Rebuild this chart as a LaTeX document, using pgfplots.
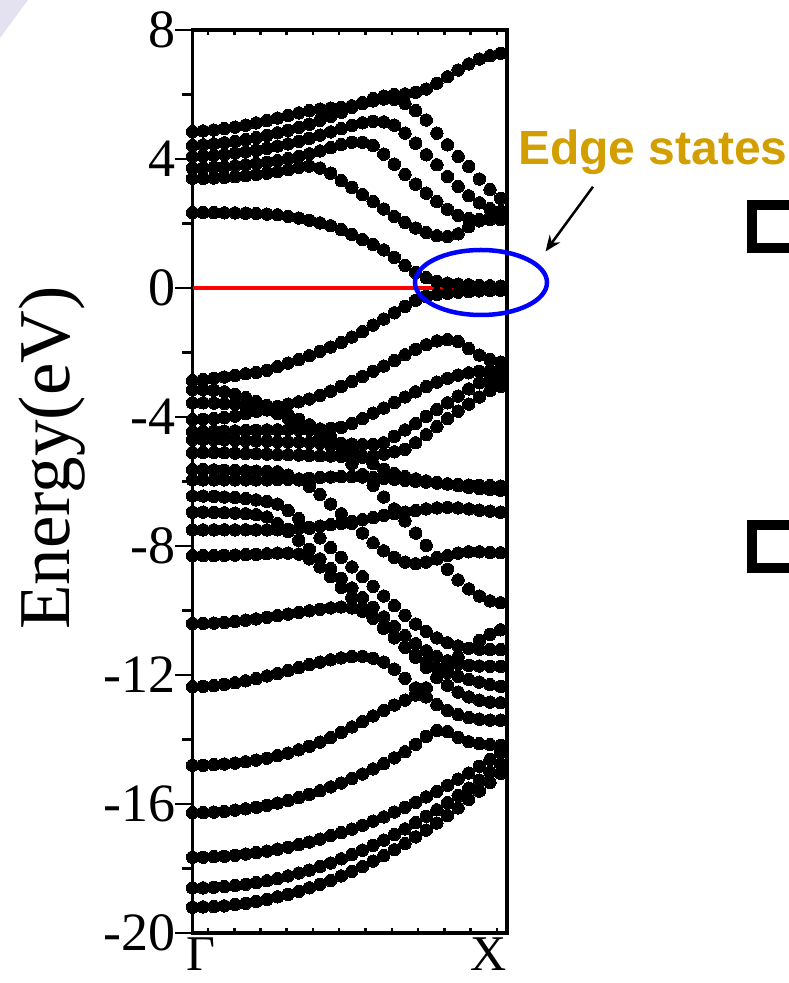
\documentclass[border=0pt]{standalone}
\usepackage{pgfplots}
\pgfplotsset{compat=1.18}
\usepackage{fontspec}
\setmainfont{Liberation Serif}
\newfontfamily\arialfont{Liberation Sans}
\usetikzlibrary{arrows.meta}
\definecolor{edgegold}{RGB}{210,158,0}
\pgfplotsset{bnd/.style={only marks, mark=*, mark size=6.2pt, mark options={fill=black, draw=black, line width=0pt}}}
\begin{document}
\begin{tikzpicture}[x=1pt,y=1pt]
\useasboundingbox (0,0) rectangle (788,983);
\fill[color={rgb,255:red,228;green,225;blue,240}] (0,983) -- (28,983) -- (0,945) -- cycle;
\begin{axis}[
  at={(192.5pt,50pt)}, anchor=south west,
  scale only axis, width=314.5pt, height=903pt,
  xmin=0, xmax=29.6, ymin=-20, ymax=8,
  axis line style={line width=3.5pt},
  xtick=\empty,
  extra x ticks={1.46,3.93,6.40,8.87,11.34,13.81,16.28,18.76,21.23,23.70,26.17,28.64},
  extra x tick labels={},
  extra x tick style={tick align=inside, major tick length=5pt},
  xtick pos=both,
  ytick={-20,-16,-12,-8,-4,0,4,8},
  yticklabels={{-20},{-16},{-12},{-8},{-4},{0},{4},{8}},
  minor ytick={-18,-14,-10,-6,-2,2,6},
  ytick pos=left,
  tick align=outside,
  major tick length=17pt, minor tick length=10pt,
  tick style={line width=2.5pt, black},
  yticklabel style={font=\fontsize{54}{54}\selectfont, inner sep=0pt, anchor=east},
]
% conduction bands
\addplot[bnd] coordinates {(0,4.85)(1,4.87)(2,4.90)(3,4.94)(4,4.99)(5,5.05)(6,5.12)(7,5.19)(8,5.27)(9,5.35)(10,5.43)(11,5.50)(12,5.55)(13,5.58)(14,5.60)(15,5.65)(16,5.72)(17,5.80)(18,5.86)(19,5.85)(20,5.72)(21,5.50)(22,5.21)(23,4.80)(24,4.44)(25,4.08)(26,3.77)(27,3.38)(28,3.05)(29,2.78)};
\addplot[bnd] coordinates {(0,4.42)(1,4.44)(2,4.47)(3,4.50)(4,4.54)(5,4.60)(6,4.66)(7,4.73)(8,4.81)(9,4.89)(10,4.98)(11,5.08)(12,5.20)(13,5.32)(14,5.45)(15,5.60)(16,5.75)(17,5.87)(18,5.95)(19,6.00)(20,6.02)(21,6.07)(22,6.17)(23,6.35)(24,6.55)(25,6.76)(26,6.95)(27,7.10)(28,7.20)(29,7.28)};
\addplot[bnd] coordinates {(0,4.08)(1,4.09)(2,4.11)(3,4.14)(4,4.18)(5,4.22)(6,4.27)(7,4.33)(8,4.40)(9,4.47)(10,4.55)(11,4.64)(12,4.74)(13,4.84)(14,4.94)(15,5.04)(16,5.12)(17,5.17)(18,5.15)(19,5.05)(20,4.80)(21,4.49)(22,4.13)(23,3.82)(24,3.46)(25,3.15)(26,2.86)(27,2.64)(28,2.46)(29,2.38)};
\addplot[bnd] coordinates {(0,3.72)(1,3.73)(2,3.74)(3,3.76)(4,3.79)(5,3.82)(6,3.86)(7,3.90)(8,3.95)(9,4.01)(10,4.08)(11,4.16)(12,4.25)(13,4.35)(14,4.45)(15,4.52)(16,4.52)(17,4.42)(18,4.15)(19,3.84)(20,3.52)(21,3.22)(22,2.94)(23,2.68)(24,2.44)(25,2.25)(26,2.15)(27,2.12)(28,2.12)(29,2.12)};
\addplot[bnd] coordinates {(0,3.40)(1,3.40)(2,3.41)(3,3.43)(4,3.45)(5,3.48)(6,3.52)(7,3.56)(8,3.61)(9,3.67)(10,3.74)(11,3.78)(12,3.72)(13,3.56)(14,3.33)(15,3.12)(16,2.90)(17,2.68)(18,2.45)(19,2.22)(20,2.03)(21,1.86)(22,1.72)(23,1.62)(24,1.60)(25,1.68)(26,1.90)(27,2.08)(28,2.20)(29,2.30)};
\addplot[bnd] coordinates {(0,2.34)(1,2.34)(2,2.34)(3,2.33)(4,2.33)(5,2.32)(6,2.31)(7,2.29)(8,2.27)(9,2.22)(10,2.17)(11,2.10)(12,2.02)(13,1.93)(14,1.81)(15,1.66)(16,1.50)(17,1.35)(18,1.18)(19,0.95)(20,0.70)(21,0.48)(22,0.32)(23,0.20)(24,0.15)(25,0.12)(26,0.10)(27,0.08)(28,0.07)(29,0.06)};
% valence bands
\addplot[bnd] coordinates {(0,-2.87)(1,-2.84)(2,-2.80)(3,-2.76)(4,-2.71)(5,-2.66)(6,-2.62)(7,-2.55)(8,-2.44)(9,-2.33)(10,-2.22)(11,-2.10)(12,-1.96)(13,-1.83)(14,-1.69)(15,-1.52)(16,-1.35)(17,-1.15)(18,-0.96)(19,-0.77)(20,-0.57)(21,-0.38)(22,-0.26)(23,-0.20)(24,-0.16)(25,-0.13)(26,-0.11)(27,-0.09)(28,-0.08)(29,-0.07)};
\addplot[bnd] coordinates {(0,-4.08)(1,-4.07)(2,-4.05)(3,-4.02)(4,-3.97)(5,-3.90)(6,-3.82)(7,-3.75)(8,-3.67)(9,-3.60)(10,-3.53)(11,-3.44)(12,-3.33)(13,-3.20)(14,-3.05)(15,-2.90)(16,-2.74)(17,-2.58)(18,-2.42)(19,-2.25)(20,-2.07)(21,-1.90)(22,-1.76)(23,-1.64)(24,-1.60)(25,-1.66)(26,-1.88)(27,-2.08)(28,-2.22)(29,-2.30)};
\addplot[bnd] coordinates {(0,-3.15)(1,-3.15)(2,-3.17)(3,-3.22)(4,-3.30)(5,-3.40)(6,-3.52)(7,-3.65)(8,-3.78)(9,-3.92)(10,-4.07)(11,-4.24)(12,-4.42)(13,-4.62)(14,-4.82)(15,-5.03)(16,-5.25)(17,-5.45)(18,-5.62)(19,-5.75)(20,-5.85)(21,-5.92)(22,-5.98)(23,-6.03)(24,-6.08)(25,-6.13)(26,-6.18)(27,-6.22)(28,-6.25)(29,-6.27)};
\addplot[bnd] coordinates {(0,-3.56)(1,-3.56)(2,-3.57)(3,-3.58)(4,-3.60)(5,-3.64)(6,-3.70)(7,-3.78)(8,-3.90)(9,-4.04)(10,-4.20)(11,-4.40)(12,-4.62)(13,-4.88)(14,-5.15)(15,-5.45)(16,-5.78)(17,-6.12)(18,-6.48)(19,-6.85)(20,-7.22)(21,-7.60)(22,-7.98)(23,-8.36)(24,-8.72)(25,-9.05)(26,-9.33)(27,-9.55)(28,-9.70)(29,-9.76)};
\addplot[bnd] coordinates {(0,-4.45)(1,-4.45)(2,-4.44)(3,-4.44)(4,-4.43)(5,-4.42)(6,-4.41)(7,-4.40)(8,-4.40)(9,-4.39)(10,-4.39)(11,-4.38)(12,-4.37)(13,-4.35)(14,-4.32)(15,-4.20)(16,-4.05)(17,-3.88)(18,-3.72)(19,-3.55)(20,-3.38)(21,-3.22)(22,-3.06)(23,-2.92)(24,-2.80)(25,-2.70)(26,-2.63)(27,-2.58)(28,-2.56)(29,-2.55)};
\addplot[bnd] coordinates {(0,-4.70)(1,-4.70)(2,-4.70)(3,-4.71)(4,-4.72)(5,-4.73)(6,-4.74)(7,-4.75)(8,-4.76)(9,-4.77)(10,-4.78)(11,-4.79)(12,-4.80)(13,-4.81)(14,-4.82)(15,-4.84)(16,-4.85)(17,-4.85)(18,-4.80)(19,-4.60)(20,-4.40)(21,-4.20)(22,-3.98)(23,-3.77)(24,-3.56)(25,-3.35)(26,-3.13)(27,-2.94)(28,-2.82)(29,-2.78)};
\addplot[bnd] coordinates {(0,-5.10)(1,-5.10)(2,-5.10)(3,-5.11)(4,-5.12)(5,-5.13)(6,-5.14)(7,-5.15)(8,-5.16)(9,-5.17)(10,-5.18)(11,-5.19)(12,-5.20)(13,-5.21)(14,-5.22)(15,-5.22)(16,-5.22)(17,-5.20)(18,-5.15)(19,-5.08)(20,-5.00)(21,-4.80)(22,-4.55)(23,-4.30)(24,-4.05)(25,-3.82)(26,-3.60)(27,-3.38)(28,-3.18)(29,-3.05)};
\addplot[bnd] coordinates {(0,-5.63)(1,-5.63)(2,-5.64)(3,-5.65)(4,-5.66)(5,-5.67)(6,-5.68)(7,-5.69)(8,-5.70)(9,-5.80)(10,-5.95)(11,-6.15)(12,-6.40)(13,-6.70)(14,-7.00)(15,-7.30)(16,-7.60)(17,-7.90)(18,-8.15)(19,-8.35)(20,-8.50)(21,-8.55)(22,-8.50)(23,-8.40)(24,-8.30)(25,-8.22)(26,-8.18)(27,-8.18)(28,-8.20)(29,-8.21)};
\addplot[bnd] coordinates {(0,-5.95)(1,-5.95)(2,-5.95)(3,-5.95)(4,-5.95)(5,-5.95)(6,-5.95)(7,-5.95)(8,-5.94)(9,-5.93)(10,-5.92)(11,-5.90)(12,-5.88)(13,-5.86)(14,-5.85)(15,-5.85)(16,-5.86)(17,-5.88)(18,-5.90)(19,-5.93)(20,-5.96)(21,-5.99)(22,-6.02)(23,-6.05)(24,-6.07)(25,-6.09)(26,-6.11)(27,-6.12)(28,-6.13)(29,-6.14)};
\addplot[bnd] coordinates {(0,-6.45)(1,-6.45)(2,-6.46)(3,-6.48)(4,-6.50)(5,-6.53)(6,-6.57)(7,-6.62)(8,-6.70)(9,-6.90)(10,-7.15)(11,-7.45)(12,-7.75)(13,-8.05)(14,-8.35)(15,-8.65)(16,-8.95)(17,-9.25)(18,-9.55)(19,-9.85)(20,-10.15)(21,-10.42)(22,-10.65)(23,-10.85)(24,-11.00)(25,-11.10)(26,-11.17)(27,-11.20)(28,-11.21)(29,-11.21)};
\addplot[bnd] coordinates {(0,-6.95)(1,-6.95)(2,-6.96)(3,-6.97)(4,-6.98)(5,-7.00)(6,-7.03)(7,-7.10)(8,-7.30)(9,-7.55)(10,-7.82)(11,-8.10)(12,-8.40)(13,-8.70)(14,-9.00)(15,-9.30)(16,-9.60)(17,-9.90)(18,-10.20)(19,-10.50)(20,-10.78)(21,-11.03)(22,-11.25)(23,-11.43)(24,-11.56)(25,-11.65)(26,-11.70)(27,-11.72)(28,-11.73)(29,-11.73)};
\addplot[bnd] coordinates {(0,-7.50)(1,-7.50)(2,-7.50)(3,-7.50)(4,-7.50)(5,-7.50)(6,-7.50)(7,-7.50)(8,-7.50)(9,-7.48)(10,-7.45)(11,-7.42)(12,-7.38)(13,-7.34)(14,-7.30)(15,-7.24)(16,-7.18)(17,-7.12)(18,-7.05)(19,-7.00)(20,-6.95)(21,-6.90)(22,-6.85)(23,-6.82)(24,-6.80)(25,-6.82)(26,-6.85)(27,-6.89)(28,-6.92)(29,-6.95)};
\addplot[bnd] coordinates {(0,-8.30)(1,-8.30)(2,-8.30)(3,-8.29)(4,-8.28)(5,-8.27)(6,-8.26)(7,-8.24)(8,-8.22)(9,-8.22)(10,-8.25)(11,-8.40)(12,-8.65)(13,-8.95)(14,-9.28)(15,-9.60)(16,-9.92)(17,-10.24)(18,-10.55)(19,-10.85)(20,-11.13)(21,-11.38)(22,-11.60)(23,-11.78)(24,-11.92)(25,-12.04)(26,-12.14)(27,-12.22)(28,-12.30)(29,-12.35)};
\addplot[bnd] coordinates {(0,-10.40)(1,-10.40)(2,-10.39)(3,-10.37)(4,-10.34)(5,-10.30)(6,-10.26)(7,-10.21)(8,-10.16)(9,-10.11)(10,-10.06)(11,-10.01)(12,-9.96)(13,-9.92)(14,-9.89)(15,-9.92)(16,-10.02)(17,-10.22)(18,-10.50)(19,-10.82)(20,-11.14)(21,-11.45)(22,-11.76)(23,-12.06)(24,-12.32)(25,-12.53)(26,-12.68)(27,-12.78)(28,-12.84)(29,-12.86)};
\addplot[bnd] coordinates {(0,-12.36)(1,-12.35)(2,-12.33)(3,-12.29)(4,-12.24)(5,-12.18)(6,-12.11)(7,-12.03)(8,-11.95)(9,-11.86)(10,-11.77)(11,-11.68)(12,-11.60)(13,-11.53)(14,-11.47)(15,-11.43)(16,-11.42)(17,-11.48)(18,-11.60)(19,-11.82)(20,-12.10)(21,-12.40)(22,-12.68)(23,-12.92)(24,-13.10)(25,-13.23)(26,-13.32)(27,-13.37)(28,-13.40)(29,-13.40)};
\addplot[bnd] coordinates {(0,-14.80)(1,-14.80)(2,-14.78)(3,-14.76)(4,-14.73)(5,-14.69)(6,-14.64)(7,-14.58)(8,-14.50)(9,-14.42)(10,-14.32)(11,-14.21)(12,-14.08)(13,-13.94)(14,-13.78)(15,-13.61)(16,-13.44)(17,-13.27)(18,-13.10)(19,-12.93)(20,-12.78)(21,-12.62)(22,-12.40)(23,-12.08)(24,-11.75)(25,-11.45)(26,-11.17)(27,-10.93)(28,-10.74)(29,-10.60)};
\addplot[bnd] coordinates {(0,-16.27)(1,-16.27)(2,-16.25)(3,-16.23)(4,-16.19)(5,-16.15)(6,-16.10)(7,-16.04)(8,-15.97)(9,-15.89)(10,-15.80)(11,-15.70)(12,-15.59)(13,-15.47)(14,-15.35)(15,-15.21)(16,-15.07)(17,-14.91)(18,-14.75)(19,-14.57)(20,-14.38)(21,-14.15)(22,-13.90)(23,-13.72)(24,-13.75)(25,-13.93)(26,-14.07)(27,-14.13)(28,-14.16)(29,-14.18)};
\addplot[bnd] coordinates {(0,-17.65)(1,-17.65)(2,-17.63)(3,-17.62)(4,-17.59)(5,-17.55)(6,-17.51)(7,-17.46)(8,-17.40)(9,-17.34)(10,-17.26)(11,-17.18)(12,-17.09)(13,-16.98)(14,-16.89)(15,-16.78)(16,-16.66)(17,-16.53)(18,-16.40)(19,-16.25)(20,-16.10)(21,-15.95)(22,-15.78)(23,-15.61)(24,-15.42)(25,-15.23)(26,-15.04)(27,-14.83)(28,-14.62)(29,-14.40)};
\addplot[bnd] coordinates {(0,-18.60)(1,-18.60)(2,-18.58)(3,-18.56)(4,-18.53)(5,-18.49)(6,-18.44)(7,-18.38)(8,-18.31)(9,-18.23)(10,-18.14)(11,-18.05)(12,-17.94)(13,-17.83)(14,-17.70)(15,-17.57)(16,-17.43)(17,-17.28)(18,-17.12)(19,-16.95)(20,-16.77)(21,-16.58)(22,-16.38)(23,-16.18)(24,-15.96)(25,-15.74)(26,-15.51)(27,-15.26)(28,-15.01)(29,-14.75)};
\addplot[bnd] coordinates {(0,-19.20)(1,-19.19)(2,-19.18)(3,-19.16)(4,-19.12)(5,-19.08)(6,-19.02)(7,-18.96)(8,-18.88)(9,-18.80)(10,-18.71)(11,-18.60)(12,-18.49)(13,-18.37)(14,-18.23)(15,-18.09)(16,-17.94)(17,-17.77)(18,-17.60)(19,-17.42)(20,-17.23)(21,-17.02)(22,-16.81)(23,-16.59)(24,-16.36)(25,-16.12)(26,-15.86)(27,-15.60)(28,-15.33)(29,-15.05)};
% Fermi level
\addplot[red, line width=3.5pt, no marks] coordinates {(0,0) (29.6,0)};
\end{axis}
% x tick labels
\node[anchor=north, inner sep=0pt, font=\fontsize{50}{50}\selectfont] at (201,45) {Γ};
\node[anchor=north, inner sep=0pt, font=\fontsize{50}{50}\selectfont] at (489,45) {X};
% y label
\node[rotate=90, inner sep=0pt, font=\fontsize{73}{73}\selectfont] at (52,525) {Energy(eV)};
% edge-state annotation
\draw[blue, line width=4.5pt] (481,700.5) ellipse [x radius=66pt, y radius=32.5pt];
\draw[line width=2.5pt, -{Stealth[length=16pt,width=13pt]}] (593,796.3) -- (545.5,731.5);
\node[anchor=base west, inner sep=0pt, text=edgegold, font=\arialfont\bfseries\fontsize{48}{48}\selectfont] at (518,818.5) {Edge states};
% slide bullets, cut by the right edge
\draw[line width=10pt] (751.7,778) rectangle (815,734.7);
\draw[line width=10pt] (751.7,458) rectangle (815,414.7);
\end{tikzpicture}
\end{document}
